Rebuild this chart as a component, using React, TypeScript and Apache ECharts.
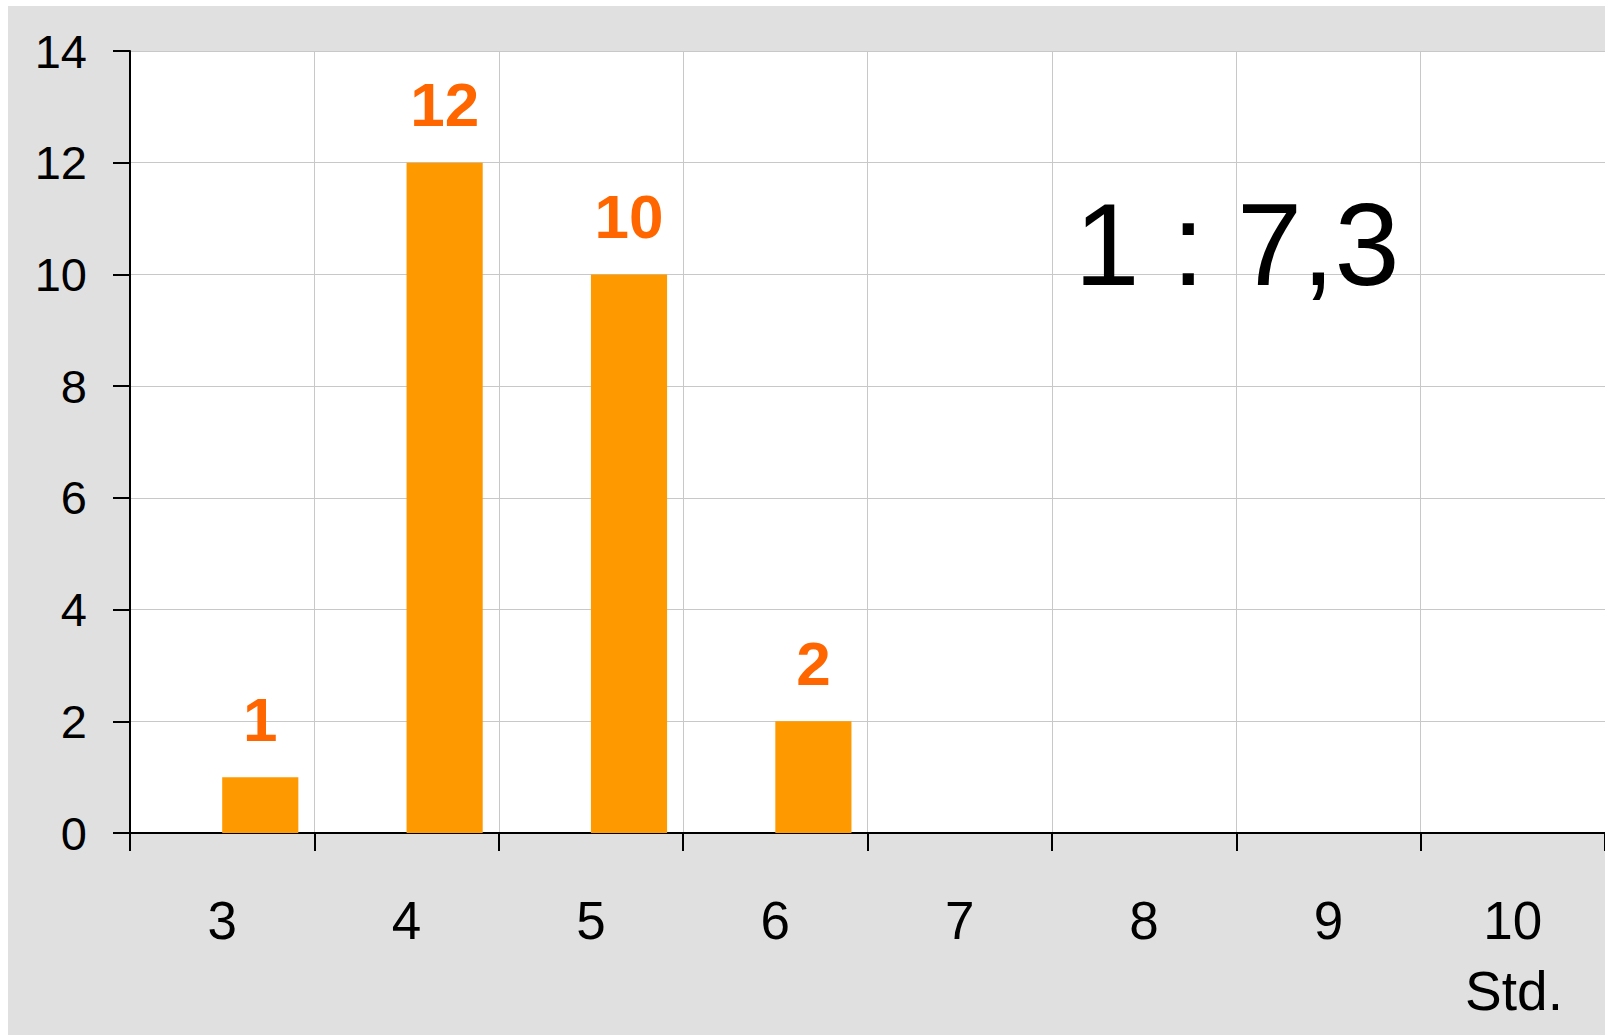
import React, { useEffect, useRef } from "react";
import * as echarts from "echarts";

// Hours per week (Std.) and how many cases fall on each
const CATEGORIES = ["3", "4", "5", "6", "7", "8", "9", "10"];
const COUNTS = [1, 12, 10, 2, 0, 0, 0, 0];
const Y_MIN = 0;
const Y_MAX = 14;
const Y_STEP = 2;
const RATIO_TEXT = "1 : 7,3";
const UNIT_TEXT = "Std.";

const FONT = '"Liberation Sans", Arial, Helvetica, sans-serif';
const BAR_COLOR = "#ff9900";
const LABEL_COLOR = "#ff6600";
const GRID_LINE = "#c8c8c8";
const BAR_RATIO = 0.413;
const LABEL_GAP = 27;

export default function App() {
  const ref = useRef<HTMLDivElement>(null);

  useEffect(() => {
    if (!ref.current) return;
    const chart = echarts.init(ref.current, undefined, { renderer: "svg" });

    // Each bar starts at its category's centre and carries its count above it
    const renderItem = (_params: any, api: any) => {
      const idx = api.value(0);
      const val = api.value(1);
      if (!val) return null;
      const top = api.coord([idx, val]);
      const base = api.coord([idx, 0]);
      const band = api.size([1, 0])[0];
      const w = band * BAR_RATIO;
      const x = base[0];
      return {
        type: "group",
        children: [
          {
            type: "rect",
            shape: { x, y: top[1], width: w, height: base[1] - top[1] },
            style: { fill: BAR_COLOR },
          },
          {
            type: "text",
            x: x + w / 2,
            y: top[1] - LABEL_GAP,
            style: {
              text: String(val),
              fill: LABEL_COLOR,
              fontFamily: FONT,
              fontWeight: "bold",
              fontSize: 62,
              align: "center",
              verticalAlign: "bottom",
            },
          },
        ],
      };
    };

    chart.setOption({
      animation: false,
      backgroundColor: "#e0e0e0",
      textStyle: { fontFamily: FONT },
      grid: {
        left: 122,
        top: 45,
        width: 1476.4,
        height: 782,
        show: true,
        backgroundColor: "#ffffff",
        borderWidth: 0,
        containLabel: false,
      },
      xAxis: {
        type: "category",
        data: CATEGORIES,
        boundaryGap: true,
        axisLine: { show: true, lineStyle: { color: "#000000", width: 2 } },
        axisTick: {
          show: true,
          interval: 0,
          length: 18,
          lineStyle: { color: "#000000", width: 2 },
        },
        axisLabel: {
          interval: 0,
          margin: 61,
          fontSize: 53,
          color: "#000000",
          fontFamily: FONT,
        },
        splitLine: {
          show: true,
          interval: 0,
          lineStyle: { color: GRID_LINE, width: 1 },
        },
      },
      yAxis: {
        type: "value",
        min: Y_MIN,
        max: Y_MAX,
        interval: Y_STEP,
        axisLine: { show: true, lineStyle: { color: "#000000", width: 2 } },
        axisTick: {
          show: true,
          length: 17,
          lineStyle: { color: "#000000", width: 2 },
        },
        axisLabel: {
          margin: 43,
          fontSize: 47,
          color: "#000000",
          fontFamily: FONT,
        },
        splitLine: {
          show: true,
          lineStyle: { color: GRID_LINE, width: 1 },
        },
      },
      series: [
        {
          type: "custom",
          renderItem,
          clip: false,
          data: COUNTS.map((v, i) => [i, v]),
          encode: { x: 0, y: 1 },
        },
      ],
      graphic: [
        {
          type: "text",
          x: 1229,
          y: 238.5,
          z: 10,
          style: {
            text: RATIO_TEXT,
            fill: "#000000",
            fontFamily: FONT,
            fontSize: 117,
            align: "center",
            verticalAlign: "middle",
          },
        },
        {
          type: "text",
          x: 1506,
          y: 985,
          z: 10,
          style: {
            text: UNIT_TEXT,
            fill: "#000000",
            fontFamily: FONT,
            fontSize: 55,
            align: "center",
            verticalAlign: "middle",
          },
        },
      ],
    });

    return () => chart.dispose();
  }, []);

  return (
    <div
      ref={ref}
      style={{ position: "absolute", left: 8, top: 6, width: 1597, height: 1029 }}
    />
  );
}
